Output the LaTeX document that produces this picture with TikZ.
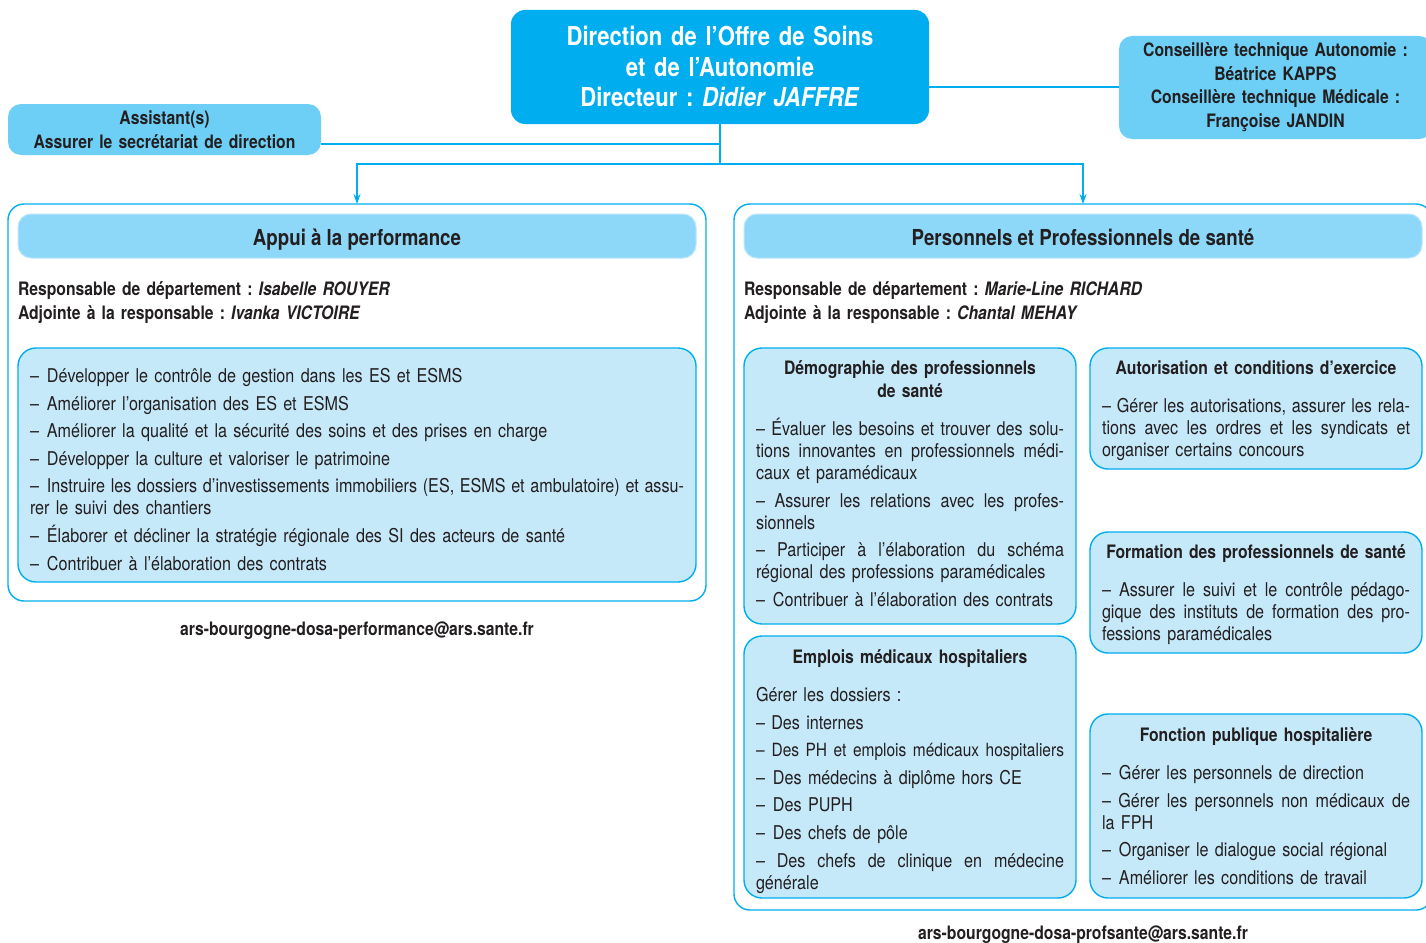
\documentclass[tikz,border=0pt]{standalone}
\usepackage{fontspec}
\setmainfont{TeX Gyre Heros}[FakeStretch=0.85]
\usetikzlibrary{arrows.meta,calc}
\definecolor{cyanA}{HTML}{00AEEF}
\definecolor{cyanB}{HTML}{6DCFF6}
\definecolor{cyanC}{HTML}{8DD8F8}
\definecolor{cyanD}{HTML}{C6E9FA}
\definecolor{ink}{HTML}{231F20}
\newcommand\jl[2][308pt]{\makebox[#1][s]{\spaceskip=0.26em plus 0.6em minus 0.1em\relax #2}}
\newcommand\dd{–\hspace{8pt}}
\newcommand\bodyf{\fontsize{19}{22}\selectfont}
\newcommand\titf{\fontsize{18.5}{23}\selectfont\bfseries}
\newcommand\gap{\\[5.6pt]}
\frenchspacing
\begin{document}
\begin{tikzpicture}[x=1pt,y=-1pt,
  every node/.style={inner sep=0pt, outer sep=0pt, text=ink},
  conn/.style={draw=cyanA, line width=1.8pt},
  topbox/.style={fill=cyanA, rounded corners=14pt},
  sidebox/.style={fill=cyanB, rounded corners=13pt},
  panel/.style={draw=cyanA, line width=1.4pt, fill=white, rounded corners=16pt},
  headbox/.style={fill=cyanC, draw=cyanC!60!white, line width=1pt, rounded corners=13pt},
  subbox/.style={draw=cyanA, line width=1.4pt, fill=cyanD, rounded corners=18pt},
  body/.style={anchor=base west, align=left, font=\bodyf},
  btitle/.style={anchor=base, align=center, font=\titf, text width=330pt},
  tip/.style={-{Stealth[length=10pt,width=7pt]}}
]
\useasboundingbox (0,0) rectangle (1426,942);
\clip (0,0) rectangle (1426,942);

% top level
\node[topbox, minimum width=418pt, minimum height=114pt] (dir) at (720,67) {};
\node[anchor=base, align=center, text width=418pt, text=white, font=\fontsize{26}{30}\selectfont\bfseries] (dirt) at (720,46)
  {Direction de l’Offre de Soins\\et de l’Autonomie\\Directeur : \textit{Didier JAFFRE}};

\node[sidebox, minimum width=313pt, minimum height=51pt] (asst) at (164.5,129.5) {};
\node[anchor=base, align=center, text width=313pt, font=\fontsize{18.5}{24}\selectfont\bfseries] (asstt) at (164.5,124.5)
  {Assistant(s)\\Assurer le secrétariat de direction};

\node[sidebox, minimum width=313pt, minimum height=103pt] (cons) at (1275.5,87.5) {};
\node[anchor=base, align=center, text width=313pt, font=\fontsize{18.5}{23.7}\selectfont\bfseries] (const) at (1275.5,56.5)
  {Conseillère technique Autonomie :\\Béatrice KAPPS\\Conseillère technique Médicale :\\Françoise JANDIN};

% panels
\node[panel, minimum width=698pt, minimum height=397pt] (lp) at (357,402.5) {};
\node[panel, minimum width=698pt, minimum height=706pt] (rp) at (1083,557) {};

% connectors
\coordinate (aj) at ([yshift=-14.5pt]asst.east);
\coordinate (cj) at ([yshift=0.5pt]cons.west);
\draw[conn] (aj) -- (aj -| dir.south);
\draw[conn] (cj) -- (cj -| dir.east);
\draw[conn, tip] (dir.south) -- ++(0,40) -| (lp.north);
\draw[conn, tip] (dir.south) -- ++(0,40) -| (rp.north);

% left panel
\node[headbox, minimum width=678pt, minimum height=44pt] (lh) at (357,236) {};
\node[anchor=base, font=\fontsize{22}{26}\selectfont\bfseries] (lht) at (357,245) {Appui à la performance};
\node[anchor=base west, align=left, text width=600pt, font=\fontsize{18.5}{24}\selectfont\bfseries] (lresp) at (18,295.5)
  {Responsable de département : \textit{Isabelle ROUYER}\\Adjointe à la responsable : \textit{Ivanka VICTOIRE}};
\node[subbox, minimum width=678pt, minimum height=234pt] (lbox) at (357,465) {};
\node[body, text width=660pt] (lboxt) at (30,382.5)
  {\dd Développer le contrôle de gestion dans les ES et ESMS\gap
   \dd Améliorer l’organisation des ES et ESMS\gap
   \dd Améliorer la qualité et la sécurité des soins et des prises en charge\gap
   \dd Développer la culture et valoriser le patrimoine\gap
   \jl[654pt]{–\hspace{8pt}Instruire les dossiers d’investissements immobiliers (ES, ESMS et ambulatoire) et assu-}\\
   rer le suivi des chantiers\gap
   \dd Élaborer et décliner la stratégie régionale des SI des acteurs de santé\gap
   \dd Contribuer à l’élaboration des contrats};
\node[anchor=base, font=\fontsize{18.5}{22}\selectfont\bfseries] (lmail) at (357,635.5) {ars-bourgogne-dosa-performance@ars.sante.fr};

% right panel
\node[headbox, minimum width=678pt, minimum height=44pt] (rh) at (1083,236) {};
\node[anchor=base, font=\fontsize{22}{26}\selectfont\bfseries] (rht) at (1083,245) {Personnels et Professionnels de santé};
\node[anchor=base west, align=left, text width=600pt, font=\fontsize{18.5}{24}\selectfont\bfseries] (rresp) at (744,295.5)
  {Responsable de département : \textit{Marie-Line RICHARD}\\Adjointe à la responsable : \textit{Chantal MEHAY}};

\node[subbox, minimum width=332pt, minimum height=276pt] (dem) at (910,486) {};
\node[btitle] (demh) at (910,374.5) {Démographie des professionnels\\de santé};
\node[body, text width=310pt] (demt) at (756,435.5)
  {\jl{– Évaluer les besoins et trouver des solu-}\\
   \jl{tions innovantes en professionnels médi-}\\
   caux et paramédicaux\gap
   \jl{– Assurer les relations avec les profes-}\\
   sionnels\gap
   \jl{– Participer à l’élaboration du schéma}\\
   régional des professions paramédicales\gap
   \dd Contribuer à l’élaboration des contrats};

\node[subbox, minimum width=332pt, minimum height=121pt] (aut) at (1256,408.5) {};
\node[btitle] (auth) at (1256,374.5) {Autorisation et conditions d’exercice};
\node[body, text width=310pt] (autt) at (1102,412.5)
  {\jl{– Gérer les autorisations, assurer les rela-}\\
   \jl{tions avec les ordres et les syndicats et}\\
   organiser certains concours};

\node[subbox, minimum width=332pt, minimum height=121pt] (form) at (1256,592.5) {};
\node[btitle] (formh) at (1256,558.5) {Formation des professionnels de santé};
\node[body, text width=310pt] (formt) at (1102,596.5)
  {\jl{– Assurer le suivi et le contrôle pédago-}\\
   \jl{gique des instituts de formation des pro-}\\
   fessions paramédicales};

\node[subbox, minimum width=332pt, minimum height=262pt] (emp) at (910,767) {};
\node[btitle] (emph) at (910,663.5) {Emplois médicaux hospitaliers};
\node[body, text width=310pt] (empt) at (756,701.5)
  {Gérer les dossiers :\gap
   – Des internes\gap
   \jl{\fontsize{18.2}{22}\selectfont–\hspace{7pt}Des PH et emplois médicaux hospitaliers}\gap
   \dd Des médecins à diplôme hors CE\gap
   \dd Des PUPH\gap
   \dd Des chefs de pôle\gap
   \jl{– Des chefs de clinique en médecine}\\
   générale};

\node[subbox, minimum width=332pt, minimum height=184pt] (fph) at (1256,806) {};
\node[btitle] (fphh) at (1256,741.5) {Fonction publique hospitalière};
\node[body, text width=310pt] (fpht) at (1102,779.5)
  {\dd Gérer les personnels de direction\gap
   \jl{– Gérer les personnels non médicaux de}\\
   la FPH\gap
   \dd Organiser le dialogue social régional\gap
   \dd Améliorer les conditions de travail};

\node[anchor=base, font=\fontsize{18.5}{22}\selectfont\bfseries] (rmail) at (1083,939.5) {ars-bourgogne-dosa-profsante@ars.sante.fr};
\end{tikzpicture}
\end{document}
